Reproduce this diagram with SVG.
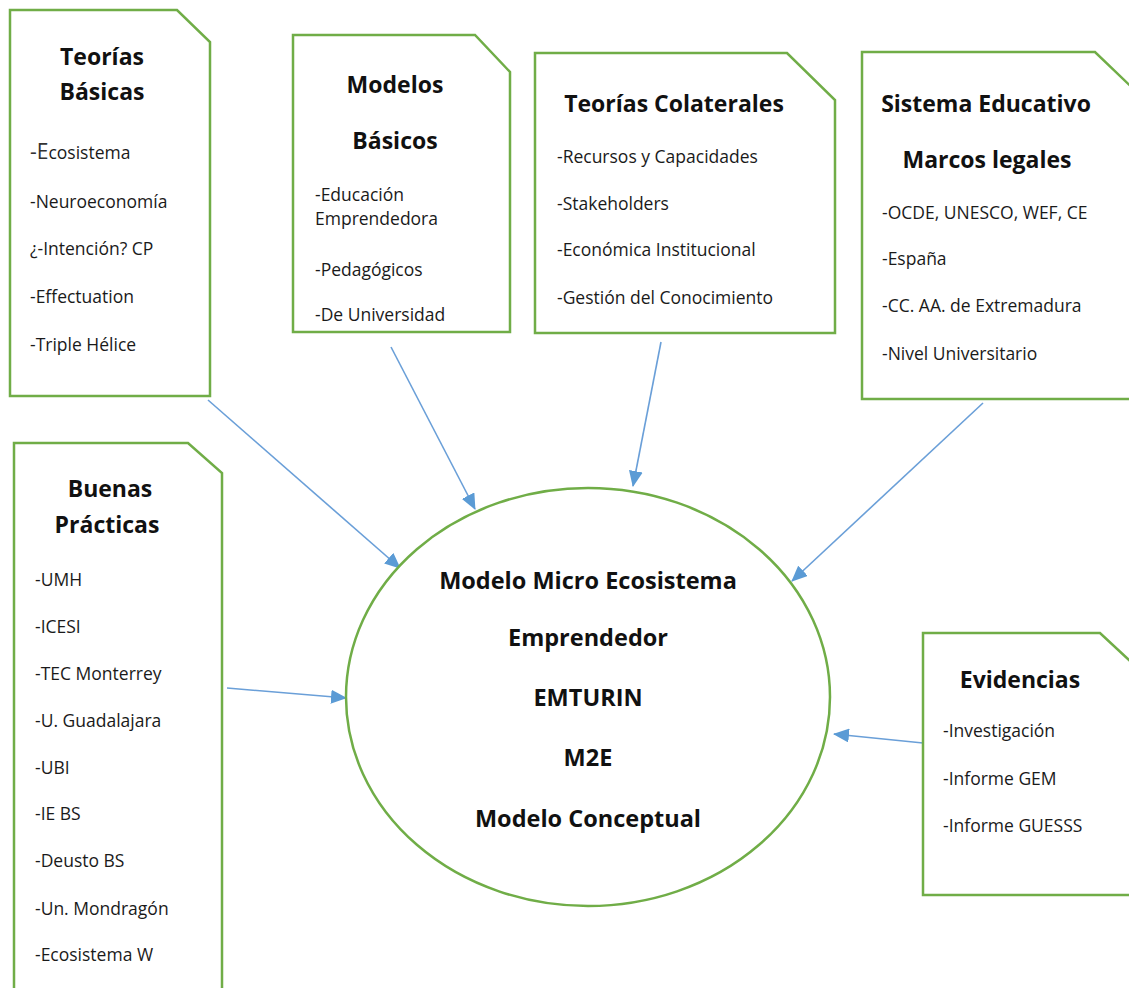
<svg xmlns="http://www.w3.org/2000/svg" width="1129" height="988" viewBox="0 0 1129 988">
<defs>
<style>
.box{fill:#fff;stroke:#70AD47;stroke-width:2.5;stroke-linejoin:miter}
.t{font-family:"Open Sans","Liberation Sans",sans-serif;font-weight:700;font-size:23px;fill:#111;text-anchor:middle}
.i{font-family:"Open Sans","Liberation Sans",sans-serif;font-size:17.5px;fill:#1a1a1a}
.c{font-family:"Open Sans","Liberation Sans",sans-serif;font-weight:700;font-size:23.5px;fill:#111;text-anchor:middle}
.arr{stroke:#6A9FD8;stroke-width:1.6;fill:none;marker-end:url(#ah)}
</style>
<marker id="ah" markerUnits="userSpaceOnUse" markerWidth="16" markerHeight="14" refX="15" refY="7" orient="auto">
<path d="M0,0 L16,7 L0,14 Z" fill="#5B9BD5"/>
</marker>
</defs>
<rect width="1129" height="988" fill="#fff"/>

<g id="connectors">
<line class="arr" x1="208" y1="400" x2="400" y2="568"/>
<line class="arr" x1="391" y1="347" x2="475" y2="509"/>
<line class="arr" x1="661" y1="342" x2="633" y2="486"/>
<line class="arr" x1="983" y1="403" x2="792" y2="581"/>
<line class="arr" x1="227" y1="688" x2="346" y2="698"/>
<line class="arr" x1="923" y1="743" x2="834" y2="734"/>
</g>

<g id="teorias-basicas">
<polygon class="box" points="10,10 177,10 210,42 210,396 10,396"/>
<text class="t" x="102" y="65">Teorías</text>
<text class="t" x="102" y="100">Básicas</text>
<text class="i" x="30" y="159"><tspan font-size="21" fill="#333">-E</tspan>cosistema</text>
<text class="i" x="30" y="208">-Neuroeconomía</text>
<text class="i" x="30" y="255">¿-Intención? CP</text>
<text class="i" x="30" y="303">-Effectuation</text>
<text class="i" x="30" y="351">-Triple Hélice</text>
</g>

<g id="modelos-basicos">
<polygon class="box" points="293,35 475,35 510,72 510,332 293,332"/>
<text class="t" x="395" y="93">Modelos</text>
<text class="t" x="395" y="149">Básicos</text>
<text class="i" x="315" y="201">-Educación</text>
<text class="i" x="315" y="225">Emprendedora</text>
<text class="i" x="315" y="276">-Pedagógicos</text>
<text class="i" x="315" y="321">-De Universidad</text>
</g>

<g id="teorias-colaterales">
<polygon class="box" points="535,53 787,53 835,100 835,333 535,333"/>
<text class="t" x="674" y="112">Teorías Colaterales</text>
<text class="i" x="557" y="163">-Recursos y Capacidades</text>
<text class="i" x="557" y="210">-Stakeholders</text>
<text class="i" x="557" y="256">-Económica Institucional</text>
<text class="i" x="557" y="304">-Gestión del Conocimiento</text>
</g>

<g id="sistema-educativo">
<polygon class="box" points="862,52 1095,52 1145,100 1145,399 862,399"/>
<text class="t" x="986" y="112">Sistema Educativo</text>
<text class="t" x="987" y="168">Marcos legales</text>
<text class="i" x="882" y="219">-OCDE, UNESCO, WEF, CE</text>
<text class="i" x="882" y="265">-España</text>
<text class="i" x="882" y="312">-CC. AA. de Extremadura</text>
<text class="i" x="882" y="360">-Nivel Universitario</text>
</g>

<g id="buenas-practicas">
<polygon class="box" points="14,443 188,443 222,473 222,1000 14,1000"/>
<text class="t" x="110" y="497">Buenas</text>
<text class="t" x="107" y="533">Prácticas</text>
<text class="i" x="35" y="586">-UMH</text>
<text class="i" x="35" y="633">-ICESI</text>
<text class="i" x="35" y="680">-TEC Monterrey</text>
<text class="i" x="35" y="727">-U. Guadalajara</text>
<text class="i" x="35" y="774">-UBI</text>
<text class="i" x="35" y="820">-IE BS</text>
<text class="i" x="35" y="867">-Deusto BS</text>
<text class="i" x="35" y="915">-Un. Mondragón</text>
<text class="i" x="35" y="961">-Ecosistema W</text>
</g>

<g id="evidencias">
<polygon class="box" points="923,633 1100,633 1145,675 1145,895 923,895"/>
<text class="t" x="1020" y="688">Evidencias</text>
<text class="i" x="943" y="737">-Investigación</text>
<text class="i" x="943" y="785">-Informe GEM</text>
<text class="i" x="943" y="832">-Informe GUESSS</text>
</g>

<g id="modelo-m2e">
<ellipse cx="588" cy="697" rx="242" ry="209" fill="#fff" stroke="#70AD47" stroke-width="2.5"/>
<text class="c" x="588" y="589">Modelo Micro Ecosistema</text>
<text class="c" x="588" y="646">Emprendedor</text>
<text class="c" x="588" y="706">EMTURIN</text>
<text class="c" x="588" y="766">M2E</text>
<text class="c" x="588" y="827">Modelo Conceptual</text>
</g>
</svg>
